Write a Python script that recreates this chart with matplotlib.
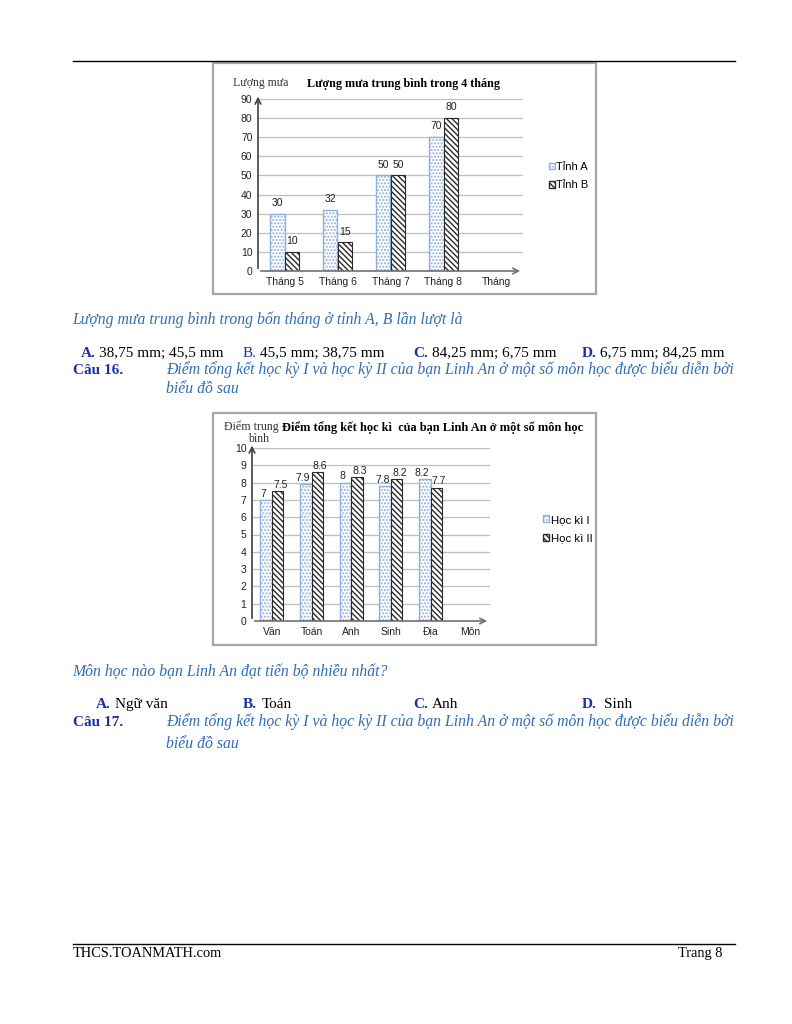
import matplotlib
matplotlib.use("Agg")
import matplotlib.pyplot as plt
from matplotlib.patches import Rectangle, Patch
from matplotlib.lines import Line2D

W, H = 792, 1024
plt.rcParams['hatch.linewidth'] = 1.0

# ---------------- data ----------------
months = ["Tháng 5", "Tháng 6", "Tháng 7", "Tháng 8", "Tháng"]
tinh_a = [30, 32, 50, 70]
tinh_b = [10, 15, 50, 80]
rain_yticks = list(range(0, 100, 10))

subjects = ["Văn", "Toán", "Anh", "Sinh", "Địa", "Môn"]
hk1 = [7, 7.9, 8, 7.8, 8.2]
hk2 = [7.5, 8.6, 8.3, 8.2, 7.7]
score_yticks = list(range(0, 11))

SERIF = "Liberation Serif"
SANS = "Liberation Sans"
BLUE_IT = "#2f6db5"
BLUE_B = "#1f2fa8"
EDGE_A = "#8fb0dc"
EDGE_B = "#2a2a2a"
HATCH_A = "....."
HATCH_B = "\\\\\\\\\\\\"
TICK_FS = 7.5

fig = plt.figure(figsize=(W / 100, H / 100), dpi=100)


def fx(x):
    return x / W


def fy(y):
    return 1 - y / H


def add_axes_px(left, top, right, bottom):
    return fig.add_axes([fx(left), fy(bottom), (right - left) / W, (bottom - top) / H])


def txt(x, y, s, **kw):
    kw.setdefault("family", SERIF)
    kw.setdefault("va", "center")
    fig.text(fx(x), fy(y), s, **kw)


def btxt(x, y, s, **kw):
    # y given as visual centre of the line; placed on a common baseline
    kw.setdefault("family", SERIF)
    fig.text(fx(x), fy(y + 4), s, va="baseline", **kw)


def frame(left, top, right, bottom):
    fig.patches.append(Rectangle((fx(left), fy(bottom)), (right - left) / W, (bottom - top) / H,
                                 transform=fig.transFigure, fill=False, edgecolor="#a6a6a6",
                                 linewidth=1.6))


def style_axis(ax, ymax, yticks, cats):
    ax.set_ylim(0, ymax)
    ax.set_xlim(-0.5, len(cats) - 0.5)
    ax.set_yticks(yticks)
    ax.set_xticks(range(len(cats)))
    ax.set_xticklabels(cats, family=SANS, fontsize=TICK_FS, color="#222222")
    for lab in ax.get_yticklabels():
        lab.set_family(SANS)
        lab.set_fontsize(TICK_FS)
        lab.set_color("#222222")
    ax.tick_params(length=0, pad=4)
    for s in ["top", "right", "left", "bottom"]:
        ax.spines[s].set_visible(False)
    ax.set_facecolor("none")
    for t in yticks[1:]:
        ax.axhline(t, color="#bfbfbf", lw=0.9, zorder=0)
    ax.annotate("", xy=(0, 1.03), xytext=(0, 0), xycoords="axes fraction",
                arrowprops=dict(arrowstyle="->", color="#404040", lw=1.2), annotation_clip=False)
    ax.annotate("", xy=(1.0, 0), xytext=(0, 0), xycoords="axes fraction",
                arrowprops=dict(arrowstyle="->", color="#707070", lw=1.2), annotation_clip=False)


# ---------------- page rules & footer ----------------
fig.add_artist(Line2D([fx(73), fx(735)], [fy(61), fy(61)], color="black", lw=1.0))
fig.add_artist(Line2D([fx(73), fx(735)], [fy(944), fy(944)], color="black", lw=1.0))
btxt(73, 953, "THCS.TOANMATH.com", fontsize=10.4)
btxt(722, 953, "Trang 8", fontsize=10.4, ha="right")

# ---------------- chart 1 ----------------
frame(213, 63, 596, 294)
ax1 = add_axes_px(258, 99, 523, 271)
style_axis(ax1, 90, rain_yticks, months)
bw = 0.28
xa = [i - bw / 2 for i in range(len(tinh_a))]
xb = [i + bw / 2 for i in range(len(tinh_b))]
ax1.bar(xa, tinh_a, width=bw, facecolor="white", edgecolor=EDGE_A, hatch=HATCH_A, lw=1.0, zorder=2)
ax1.bar(xb, tinh_b, width=bw, facecolor="white", edgecolor=EDGE_B, hatch=HATCH_B, lw=0.8, zorder=2)
for x, v in zip(xa, tinh_a):
    ax1.text(x, v + 3, str(v), ha="center", va="bottom", family=SANS, fontsize=TICK_FS, color="#222222")
for x, v in zip(xb, tinh_b):
    ax1.text(x, v + 3, str(v), ha="center", va="bottom", family=SANS, fontsize=TICK_FS, color="#222222")
txt(233, 83, "Lượng mưa", fontsize=8.5, color="#333333")
txt(404, 84, "Lượng mưa trung bình trong 4 tháng", fontsize=8.7, fontweight="bold", ha="center")
h1 = [Patch(facecolor="white", edgecolor=EDGE_A, hatch=HATCH_A),
      Patch(facecolor="white", edgecolor=EDGE_B, hatch=HATCH_B)]
fig.legend(h1, ["Tỉnh A", "Tỉnh B"], loc="center left", bbox_to_anchor=(fx(543), fy(176)),
           frameon=False, prop={"family": SANS, "size": 8}, handlelength=0.55, handleheight=0.55,
           handletextpad=0.15, labelspacing=0.75, borderpad=0)

# ---------------- text block ----------------
btxt(72, 320, "Lượng mưa trung bình trong bốn tháng ở tỉnh A, B lần lượt là", fontsize=11.3,
     style="italic", color=BLUE_IT)
opts1 = [(81, 99, "A.", "38,75 mm; 45,5 mm"), (243, 260, "B.", "45,5 mm; 38,75 mm"),
         (413, 432, "C.", "84,25 mm; 6,75 mm"), (582, 600, "D.", "6,75 mm; 84,25 mm")]
for xl, xt, l, t in opts1:
    btxt(xl, 353, l, fontsize=11, fontweight="bold" if l != "B." else "normal", color=BLUE_B)
    btxt(xt, 353, t, fontsize=11, color="black")
btxt(73, 370, "Câu 16.", fontsize=11, fontweight="bold", color=BLUE_B)
btxt(166, 370, "Điểm tổng kết học kỳ I và học kỳ II của bạn Linh An ở một số môn học được biểu diễn bởi",
     fontsize=11.3, style="italic", color=BLUE_IT)
btxt(166, 389, "biểu đồ sau", fontsize=11.3, style="italic", color=BLUE_IT)

# ---------------- chart 2 ----------------
frame(213, 413, 596, 645)
ax2 = add_axes_px(252, 448, 490, 621)
style_axis(ax2, 10, score_yticks, subjects)
bw2 = 0.29
xa2 = [i - bw2 / 2 for i in range(len(hk1))]
xb2 = [i + bw2 / 2 for i in range(len(hk2))]
ax2.bar(xa2, hk1, width=bw2, facecolor="white", edgecolor=EDGE_A, hatch=HATCH_A, lw=1.0, zorder=2)
ax2.bar(xb2, hk2, width=bw2, facecolor="white", edgecolor=EDGE_B, hatch=HATCH_B, lw=0.8, zorder=2)
for x, v in zip(xa2, hk1):
    ax2.text(x - 0.07, v + 0.08, f"{v:g}", ha="center", va="bottom", family=SANS, fontsize=TICK_FS, color="#222222")
for x, v in zip(xb2, hk2):
    ax2.text(x + 0.07, v + 0.08, f"{v:g}", ha="center", va="bottom", family=SANS, fontsize=TICK_FS, color="#222222")
txt(224, 427, "Điểm trung", fontsize=8.6, color="#333333")
txt(248, 439, "bình", fontsize=8.6, color="#333333")
txt(433, 428, "Điểm tổng kết học kì  của bạn Linh An ở một số môn học", fontsize=8.9,
    fontweight="bold", ha="center")
h2 = [Patch(facecolor="white", edgecolor=EDGE_A, hatch=HATCH_A),
      Patch(facecolor="white", edgecolor=EDGE_B, hatch=HATCH_B)]
fig.legend(h2, ["Học kì I", "Học kì II"], loc="center left", bbox_to_anchor=(fx(537), fy(529)),
           frameon=False, prop={"family": SANS, "size": 8.2}, handlelength=0.55, handleheight=0.55,
           handletextpad=0.15, labelspacing=0.75, borderpad=0)

# ---------------- text block 2 ----------------
btxt(72, 672, "Môn học nào bạn Linh An đạt tiến bộ nhiều nhất?", fontsize=11.3, style="italic", color=BLUE_IT)
opts2 = [(96, 115, "A.", "Ngữ văn"), (243, 262, "B.", "Toán"), (413, 432, "C.", "Anh"), (582, 604, "D.", "Sinh")]
for xl, xt, l, t in opts2:
    btxt(xl, 704, l, fontsize=11, fontweight="bold", color=BLUE_B)
    btxt(xt, 704, t, fontsize=11, color="black")
btxt(73, 722, "Câu 17.", fontsize=11, fontweight="bold", color=BLUE_B)
btxt(166, 722, "Điểm tổng kết học kỳ I và học kỳ II của bạn Linh An ở một số môn học được biểu diễn bởi",
     fontsize=11.3, style="italic", color=BLUE_IT)
btxt(166, 744, "biểu đồ sau", fontsize=11.3, style="italic", color=BLUE_IT)

fig.savefig("out.png", dpi=100, facecolor="white")
